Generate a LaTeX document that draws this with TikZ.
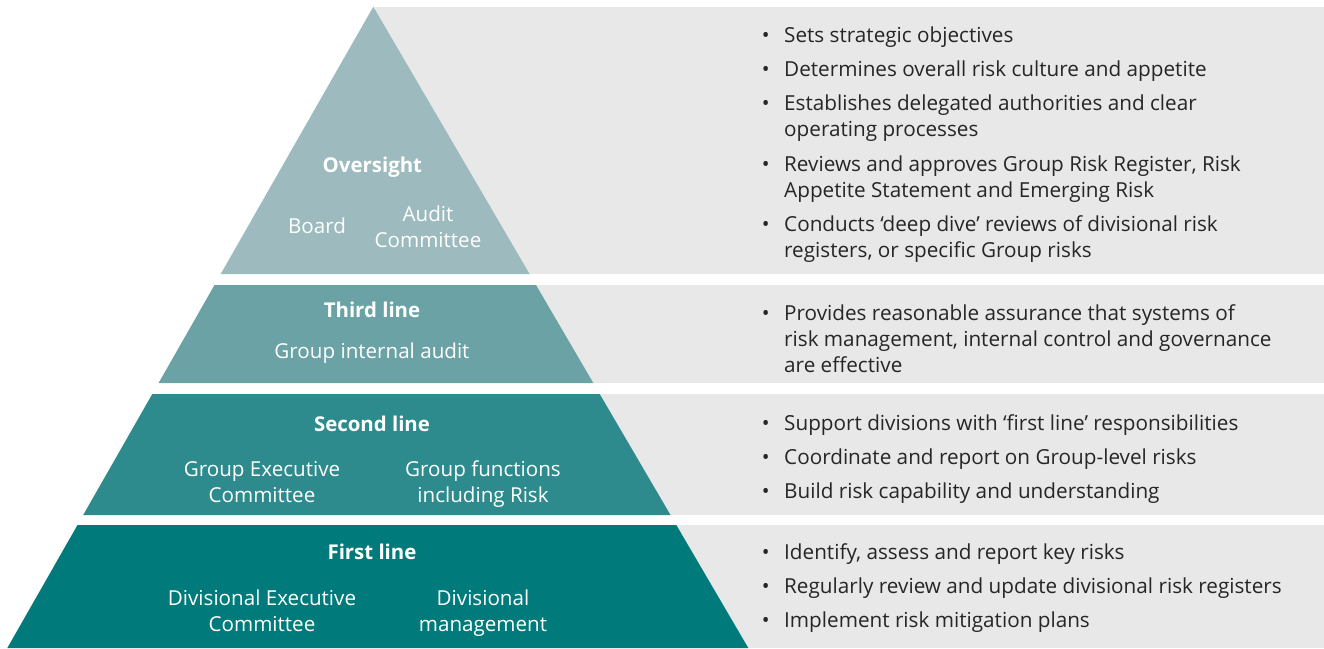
\documentclass[tikz,border=0pt]{standalone}
\usepackage{fontspec}
\setmainfont{Open Sans}
\usetikzlibrary{positioning}

\definecolor{oversightc}{RGB}{157,187,190}
\definecolor{thirdc}{RGB}{107,162,165}
\definecolor{secondc}{RGB}{46,139,141}
\definecolor{firstc}{RGB}{0,122,122}
\definecolor{bandgray}{RGB}{232,232,232}
\definecolor{textdark}{RGB}{38,38,38}

\newcommand{\bul}{\llap{\textbullet\hspace{14.5pt}}}

\begin{document}
\begin{tikzpicture}[x=1pt, y=-1pt,
    band/.style={fill=bandgray},
    title/.style={text=white, inner sep=0pt, anchor=base, font=\fontsize{20.4}{26}\selectfont\bfseries},
    sub/.style={text=white, inner sep=0pt, anchor=base, align=center, font=\fontsize{20.6}{26}\selectfont},
    point/.style={text=textdark, inner sep=0pt, anchor=base west, align=left, font=\fontsize{20.7}{26}\selectfont}
]
    \useasboundingbox (0,0) rectangle (1324,648);

    % Grey bands behind the text
    \fill[band] (375,7) rectangle (1324,274);
    \fill[band] (375,285) rectangle (1324,383);
    \fill[band] (375,394) rectangle (1324,515);
    \fill[band] (375,525) rectangle (1324,648);

    % Pyramid tiers
    \fill[oversightc] (373.3,6.7) -- (529.6,274) -- (220.7,274) -- cycle;
    \fill[thirdc] (214.5,285) -- (536.0,285) -- (593.3,383) -- (158.6,383) -- cycle;
    \fill[secondc] (152.3,394) -- (599.7,394) -- (670.5,515) -- (83.2,515) -- cycle;
    \fill[firstc] (77.5,525) -- (676.3,525) -- (748.3,648) -- (7.3,648) -- cycle;

    % Oversight (multi-line nodes sit on their last baseline)
    \node[title] (oversight) at (372.4,172.7) {Oversight};
    \node[sub] (board) at (317,233.5) {Board};
    \node[sub] (audit) at (428,247) {Audit\\Committee};

    % Third line
    \node[title] (third) at (372,317) {Third line};
    \node[sub] (internal) at (372,358) {Group internal audit};

    % Second line
    \node[title] (second) at (372,431) {Second line};
    \node[sub] (gexec) at (262,502) {Group Executive\\Committee};
    \node[sub] (gfunc) at (483,502) {Group functions\\including Risk};

    % First line
    \node[title] (first) at (372,559) {First line};
    \node[sub] (dexec) at (262,631) {Divisional Executive\\Committee};
    \node[sub] (dmgmt) at (483,631) {Divisional\\management};

    % Bullets: oversight
    \node[point] (o1) at (784,42) {\bul Sets strategic objectives};
    \node[point] (o2) at (784,76) {\bul Determines overall risk culture and appetite};
    \node[point] (o3) at (784,136.7) {\bul Establishes delegated authorities and clear\\operating processes};
    \node[point] (o4) at (784,197) {\bul Reviews and approves Group Risk Register, Risk\\Appetite Statement and Emerging Risk};
    \node[point] (o5) at (784,257) {\bul Conducts ‘deep dive’ reviews of divisional risk\\registers, or specific Group risks};

    % Bullets: third line
    \node[point] (t1) at (784,372) {\bul Provides reasonable assurance that systems of\\risk management, internal control and governance\\are effective};

    % Bullets: second line
    \node[point] (s1) at (784,430) {\bul Support divisions with ‘first line’ responsibilities};
    \node[point] (s2) at (784,464) {\bul Coordinate and report on Group-level risks};
    \node[point] (s3) at (784,498) {\bul Build risk capability and understanding};

    % Bullets: first line
    \node[point] (f1) at (784,559) {\bul Identify, assess and report key risks};
    \node[point] (f2) at (784,593) {\bul Regularly review and update divisional risk registers};
    \node[point] (f3) at (784,627) {\bul Implement risk mitigation plans};
\end{tikzpicture}
\end{document}
